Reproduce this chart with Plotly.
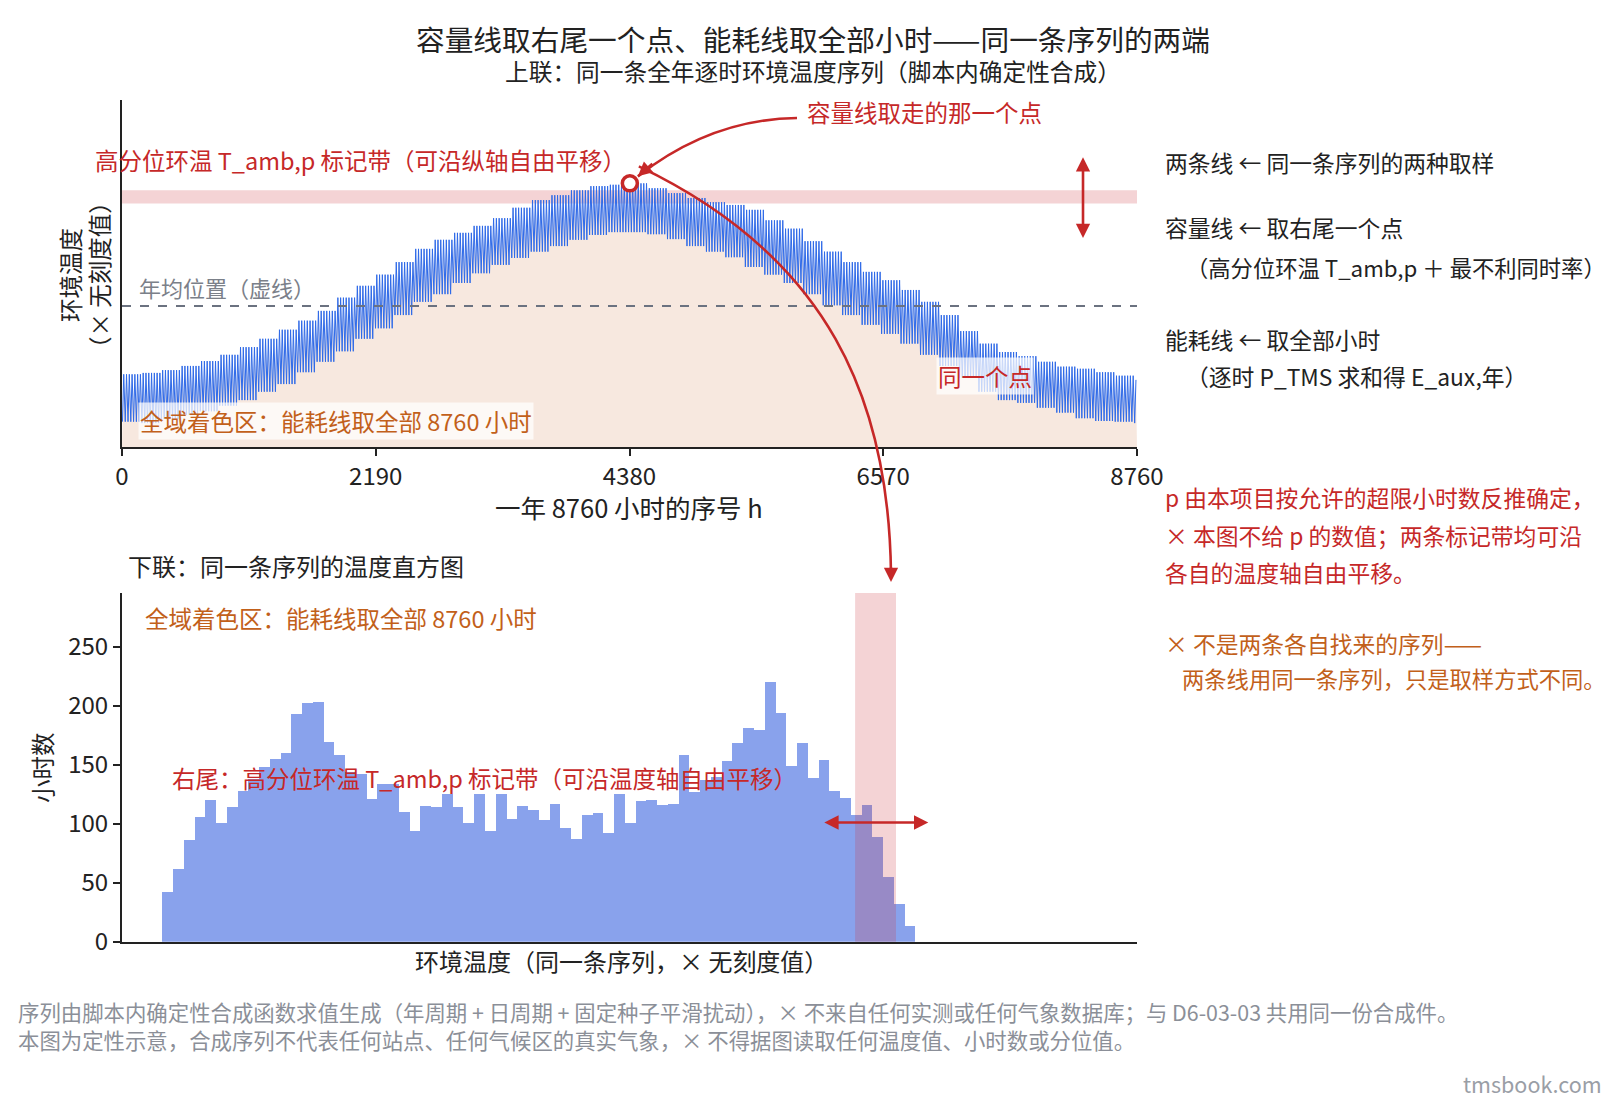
import plotly.graph_objects as go

# The page body keeps an 8 px margin; the figure is sized so the page fits the window exactly
OFF = 8
W, H = 1608, 1091

# ---------------- data ----------------
HOUR_TICKS = [0, 2190, 4380, 6570, 8760]
HOURS_PER_YEAR = 8760
# weekly upper (daily max) / lower (daily min) envelope of the hourly series, arbitrary temperature units
WEEK_HI = [2.7, 2.9, 3.3, 3.9, 4.6, 5.5, 6.6, 7.8, 9.1, 10.4, 11.8, 13.7, 15.4, 17.0, 18.8,
           20.7, 22.0, 23.0, 24.0, 25.1, 26.6, 27.7, 28.4, 29.1, 29.7, 29.9, 30.1, 29.4, 28.7,
           28.0, 27.4, 27.0, 26.3, 24.8, 23.6, 21.8, 20.3, 18.8, 17.4, 16.2, 14.8, 13.1, 11.2,
           8.9, 7.1, 5.9, 5.3, 4.5, 3.8, 3.5, 3.0, 2.5, 1.9]
WEEK_LO = [-4.1, -4.3, -3.7, -3.1, -2.6, -1.8, -1.0, 0.2, 1.3, 3.0, 4.5, 6.0, 7.8, 9.3, 11.2,
           13.1, 14.2, 15.8, 17.2, 18.4, 19.4, 20.3, 21.1, 22.0, 22.7, 23.1, 23.1, 22.8, 22.1,
           21.1, 20.3, 19.5, 18.1, 17.0, 15.8, 14.2, 12.6, 11.2, 9.8, 8.5, 7.1, 5.5, 3.9, 2.2,
           0.2, -1.0, -1.4, -2.1, -2.8, -3.6, -4.0, -4.1, -4.3]
ANNUAL_MEAN = 12.5
BAND = [27.2, 29.1]          # high-percentile marker band (temperature units)

HIST_T0 = -5.0
HIST_BIN = 0.5
HIST_COUNTS = [42, 62, 86, 106, 120, 101, 114, 128, 138, 148,
               155, 160, 193, 202, 203, 169, 158, 144, 142, 121,
               134, 134, 110, 94, 115, 114, 125, 114, 101, 125,
               94, 125, 104, 115, 112, 103, 117, 96, 87, 107,
               109, 92, 125, 101, 119, 120, 116, 117, 158, 127,
               137, 140, 153, 168, 181, 179, 220, 194, 149, 168,
               139, 154, 128, 122, 107, 116, 89, 55, 32, 13]
HIST_YTICKS = [0, 50, 100, 150, 200, 250]

# ---------------- layout constants (window pixels) ----------------
L, R = 122, 1137
TOP_T, TOP_B = 100, 447
BOT_T, BOT_B = 593, 941.7
TOP_YR = [-7.73, 42.06]
BOT_XR = [-6.87, 40.3]
BOT_YR = [0, 295.5]

RED = "#c62828"
ORANGE = "#c2601a"
GREY = "#7b8089"
DARK = "#222222"
FONT = "Noto Sans CJK SC, Noto Sans, sans-serif"


def pxx(x):
    return (x - OFF) / W


def pxy(y):
    return 1 - (y - OFF) / H


def top_to_px(h, t):
    return (L + h / HOURS_PER_YEAR * (R - L),
            TOP_B - (t - TOP_YR[0]) / (TOP_YR[1] - TOP_YR[0]) * (TOP_B - TOP_T))


# ---------------- build series (two points per day: min and max) ----------------
sx, sy = [], []
for d in range(365):
    w = d // 7
    sx += [24 * d + 4, 24 * d + 15]
    sy += [WEEK_LO[w], WEEK_HI[w]]

imax = max(range(len(sy)), key=lambda i: sy[i])
peak_h, peak_t = sx[imax], sy[imax]

fig = go.Figure()

# baseline for fill
fig.add_trace(go.Scatter(x=[0, HOURS_PER_YEAR], y=[TOP_YR[0], TOP_YR[0]], mode="lines",
                         line=dict(width=0), hoverinfo="skip", xaxis="x", yaxis="y"))
fig.add_trace(go.Scatter(x=sx, y=sy, mode="lines", fill="tonexty",
                         fillcolor="rgba(225,170,135,0.27)",
                         line=dict(color="#2f6ae8", width=1.0), xaxis="x", yaxis="y"))
fig.add_trace(go.Scatter(x=[peak_h], y=[peak_t], mode="markers",
                         marker=dict(size=15, color="white", line=dict(color=RED, width=3.5)),
                         xaxis="x", yaxis="y"))

centers = [HIST_T0 + (i + 0.5) * HIST_BIN for i in range(len(HIST_COUNTS))]
fig.add_trace(go.Bar(x=centers, y=HIST_COUNTS, width=HIST_BIN,
                     marker=dict(color="rgba(65,105,225,0.62)", line=dict(width=0)),
                     xaxis="x2", yaxis="y2"))

shapes = []
# top band
shapes.append(dict(type="rect", xref="x", yref="y", x0=0, x1=HOURS_PER_YEAR, y0=BAND[0], y1=BAND[1],
                   fillcolor="rgba(205,55,65,0.22)", line=dict(width=0), layer="below"))
# mean dashed line
shapes.append(dict(type="line", xref="x", yref="y", x0=0, x1=HOURS_PER_YEAR, y0=ANNUAL_MEAN, y1=ANNUAL_MEAN,
                   line=dict(color="#6b7280", width=2.2, dash="dash"), layer="above"))
# bottom band
shapes.append(dict(type="rect", xref="x2", yref="y2 domain", x0=BAND[0], x1=BAND[1], y0=0, y1=1,
                   fillcolor="rgba(205,55,65,0.22)", line=dict(width=0), layer="above"))

# curved arrows (pixel geometry anchored at the peak point)
mx, my = top_to_px(peak_h, peak_t)
a1_start = (797, 118)
a1_tip = (mx + 8, my - 7)
a1_ctrl = (711, 119)
shapes.append(dict(type="path", xref="paper", yref="paper",
                   path=f"M {pxx(a1_start[0])},{pxy(a1_start[1])} Q {pxx(a1_ctrl[0])},{pxy(a1_ctrl[1])} "
                        f"{pxx(a1_tip[0])},{pxy(a1_tip[1])}",
                   line=dict(color=RED, width=2.6)))
a2_p0 = (mx + 9, my - 17)
a2_p1 = (829, 257)
a2_p2 = (889, 400)
a2_p3 = (891, 574)
shapes.append(dict(type="path", xref="paper", yref="paper",
                   path=f"M {pxx(a2_p0[0])},{pxy(a2_p0[1])} C {pxx(a2_p1[0])},{pxy(a2_p1[1])} "
                        f"{pxx(a2_p2[0])},{pxy(a2_p2[1])} {pxx(a2_p3[0])},{pxy(a2_p3[1])}",
                   line=dict(color=RED, width=2.6)))

ann = []


def text(x, y, s, size=23.5, color=DARK, xanchor="left", **kw):
    ann.append(dict(x=pxx(x), y=pxy(y), xref="paper", yref="paper", text=s, showarrow=False,
                    xanchor=xanchor, yanchor="middle", font=dict(size=size, color=color, family=FONT), **kw))


def vtext(x, y, s, size=23.5):
    ann.append(dict(x=pxx(x), y=pxy(y), xref="paper", yref="paper", text=s, showarrow=False,
                    textangle=-90, xanchor="center", yanchor="middle",
                    font=dict(size=size, color=DARK, family=FONT)))


# arrowheads
ann.append(dict(x=pxx(a1_tip[0]), y=pxy(a1_tip[1]), xref="paper", yref="paper", text="",
                showarrow=True, ax=16, ay=-14, arrowhead=2, arrowsize=1.1, arrowwidth=2.6, arrowcolor=RED))
ann.append(dict(x=pxx(891), y=pxy(582), xref="paper", yref="paper", text="",
                showarrow=True, ax=0, ay=-16, arrowhead=2, arrowsize=1.1, arrowwidth=2.6, arrowcolor=RED))
# double arrows
bc = (BAND[0] + BAND[1]) / 2
ann.append(dict(x=8294, y=bc - 5.9, xref="x", yref="y", ax=8294, ay=bc + 5.9, axref="x", ayref="y",
                text="", showarrow=True, arrowside="end+start", arrowhead=2, arrowsize=1.1,
                arrowwidth=2.6, arrowcolor=RED))
ann.append(dict(x=bc + 2.45, y=101, xref="x2", yref="y2", ax=bc - 2.45, ay=101, axref="x2", ayref="y2",
                text="", showarrow=True, arrowside="end+start", arrowhead=2, arrowsize=1.1,
                arrowwidth=2.6, arrowcolor=RED))

# titles
text(813, 39, "容量线取右尾一个点、能耗线取全部小时——同一条序列的两端", size=28.7, xanchor="center")
text(813, 71, "上联：同一条全年逐时环境温度序列（脚本内确定性合成）", size=23.7, xanchor="center")
text(126, 565, "下联：同一条序列的温度直方图", size=24)

# top panel labels
text(93, 160, "高分位环温 T_amb,p 标记带（可沿纵轴自由平移）", color=RED)
text(137, 287, "年均位置（虚线）", size=22, color=GREY)
text(138, 421, "全域着色区：能耗线取全部 8760 小时", color=ORANGE, bgcolor="rgba(255,255,255,0.72)")
text(985, 376, "同一个点", color=RED, xanchor="center", bgcolor="rgba(255,255,255,0.72)")
text(805, 112, "容量线取走的那一个点", color=RED)
vtext(70, 275, "环境温度")
vtext(99, 275, "（× 无刻度值）")
text(629, 506, "一年 8760 小时的序号 h", size=25.5, xanchor="center")

# bottom panel labels
text(143, 618, "全域着色区：能耗线取全部 8760 小时", color=ORANGE)
text(170, 778, "右尾：高分位环温 T_amb,p 标记带（可沿温度轴自由平移）", color=RED)
vtext(42, 768, "小时数")
text(621, 960, "环境温度（同一条序列，× 无刻度值）", size=24, xanchor="center")

# right side notes
NOTE = 22.8
LONG = 22.3
text(1163, 163, "两条线 ← 同一条序列的两种取样", size=NOTE)
text(1163, 228, "容量线 ← 取右尾一个点", size=NOTE)
text(1184, 267, "（高分位环温 T_amb,p ＋ 最不利同时率）", size=LONG)
text(1163, 340, "能耗线 ← 取全部小时", size=NOTE)
text(1184, 377, "（逐时 P_TMS 求和得 E_aux,年）", size=NOTE)
text(1163, 497, "p 由本项目按允许的超限小时数反推确定，", size=NOTE, color=RED)
text(1163, 535, "× 本图不给 p 的数值；两条标记带均可沿", size=NOTE, color=RED)
text(1163, 572, "各自的温度轴自由平移。", size=NOTE, color=RED)
text(1163, 643, "× 不是两条各自找来的序列——", size=NOTE, color=ORANGE)
text(1180, 678, "两条线用同一条序列，只是取样方式不同。", size=LONG, color=ORANGE)

# footer
text(16, 1011, "序列由脚本内确定性合成函数求值生成（年周期 + 日周期 + 固定种子平滑扰动），× 不来自任何实测或任何气象数据库；与 D6-03-03 共用同一份合成件。",
     size=21.4, color="#8b8f98")
text(16, 1039, "本图为定性示意，合成序列不代表任何站点、任何气候区的真实气象，× 不得据图读取任何温度值、小时数或分位值。",
     size=21.4, color="#8b8f98")
text(1604, 1083, "tmsbook.com", size=21.5, color="#9a9ea6", xanchor="right")

axis_common = dict(showgrid=False, zeroline=False, showline=True, linecolor=DARK, linewidth=2,
                   automargin=False, tickfont=dict(size=24, color=DARK, family=FONT))

fig.update_layout(
    width=W, height=H, autosize=False,
    margin=dict(l=0, r=0, t=0, b=0, pad=0, autoexpand=False),
    paper_bgcolor="white", plot_bgcolor="white", showlegend=False, bargap=0,
    font=dict(family=FONT, color=DARK),
    xaxis=dict(domain=[pxx(L), pxx(R)], range=[0, HOURS_PER_YEAR], tickvals=HOUR_TICKS,
               ticks="outside", ticklen=7, tickwidth=1.6, tickcolor=DARK, anchor="y", **axis_common),
    yaxis=dict(domain=[pxy(TOP_B), pxy(TOP_T)], range=TOP_YR, showticklabels=False, ticks="",
               anchor="x", **axis_common),
    xaxis2=dict(domain=[pxx(L), pxx(R)], range=BOT_XR, showticklabels=False, ticks="",
                anchor="y2", **axis_common),
    yaxis2=dict(domain=[pxy(BOT_B), pxy(BOT_T)], range=BOT_YR, tickvals=HIST_YTICKS,
                ticks="outside", ticklen=7, tickwidth=1.6, tickcolor=DARK, anchor="x2", **axis_common),
    shapes=shapes, annotations=ann,
)

fig.write_html("out.html", config={"responsive": False, "displayModeBar": False})
